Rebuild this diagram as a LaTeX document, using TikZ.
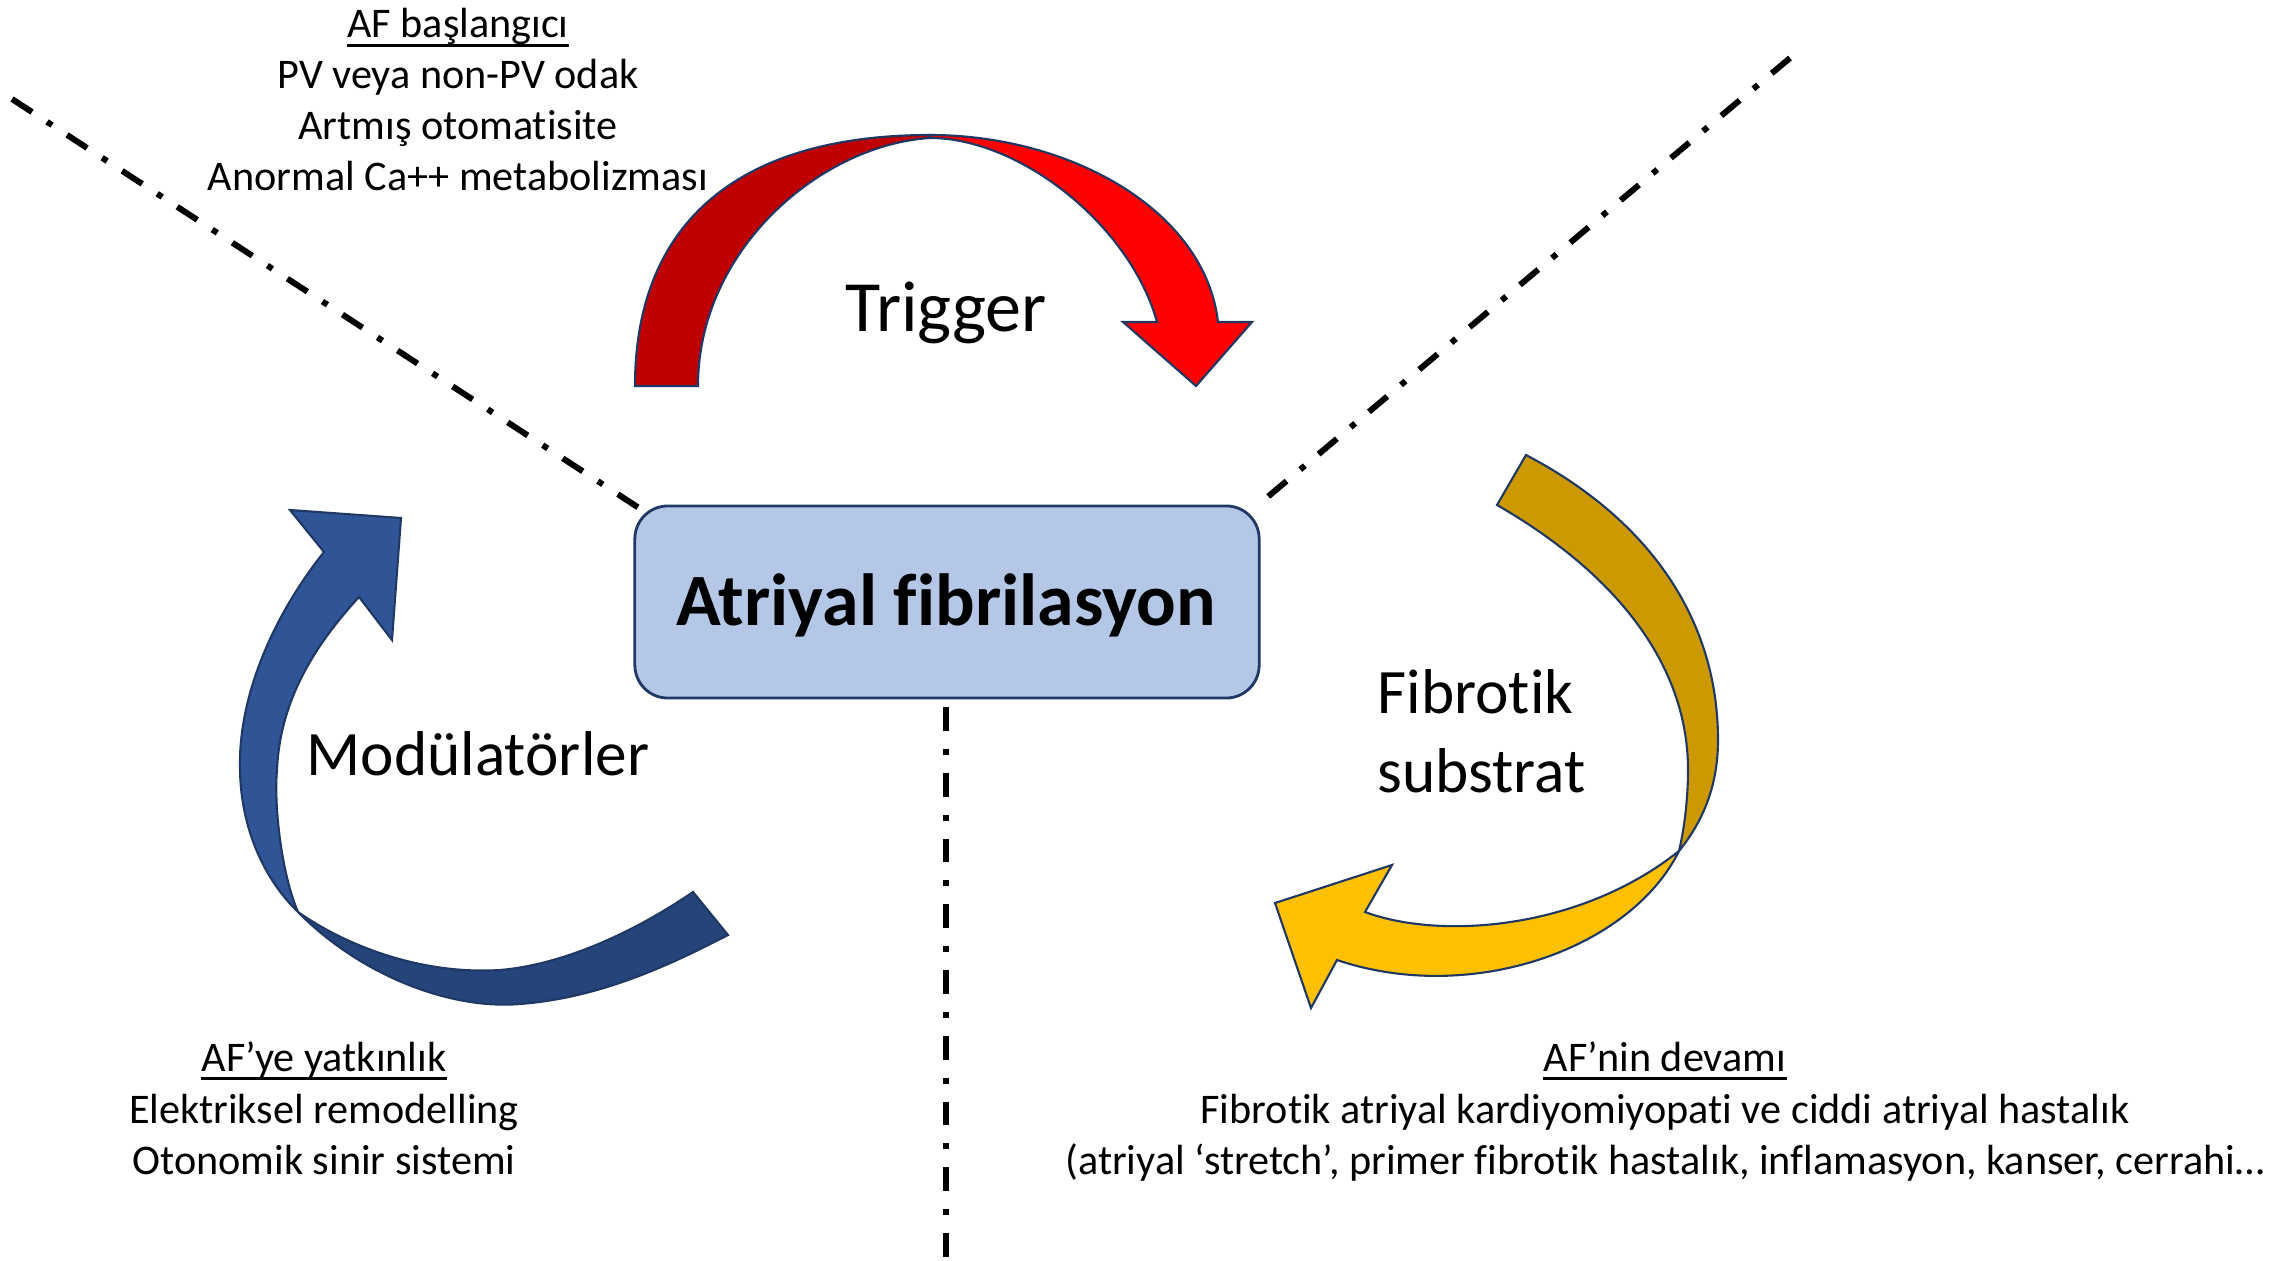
\documentclass[tikz,border=0pt]{standalone}
\usepackage{fontspec}
\setmainfont{Carlito}[Ligatures={NoCommon,NoRare}]
\definecolor{navy}{HTML}{1F3864}
\definecolor{redD}{HTML}{C00000}
\definecolor{redL}{HTML}{FF0000}
\definecolor{goldD}{HTML}{CC9A00}
\definecolor{goldL}{HTML}{FFC000}
\definecolor{blueL}{HTML}{2F5597}
\definecolor{blueD}{HTML}{25447A}
\definecolor{boxfill}{HTML}{B4C7E7}
\begin{document}
\begin{tikzpicture}[x=0.01cm,y=-0.01cm,
  ribbon/.style={draw=navy, line width=0.6pt, line join=miter},
  sepline/.style={line width=1.7pt, dash pattern=on 6.8pt off 5.1pt on 1.7pt off 5.1pt},
  smalltxt/.style={inner sep=0pt, font=\fontsize{12}{14.5}\selectfont, anchor=base},
  midtxt/.style={inner sep=0pt, font=\fontsize{18}{22}\selectfont},
  ulline/.style={line width=0.8pt}
]
\useasboundingbox (0,0) rectangle (2278,1261);

% separator lines
\coordinate (ula) at (12,99);   \coordinate (ulb) at (639,508);
\coordinate (ura) at (1790,58); \coordinate (urb) at (1264,500);
\coordinate (bta) at (946,707); \coordinate (btb) at (946,1261);
\draw[sepline] (ula) -- (ulb);
\draw[sepline] (ura) -- (urb);
\draw[sepline] (bta) -- (btb);

% red arrow (Trigger)
\filldraw[ribbon, fill=redD] (635,386) -- (698,386) .. controls (698,250) and (820,145) .. (930,138)
  -- (930,135) .. controls (738,135) and (635,223) .. (635,386) -- cycle;
\filldraw[ribbon, fill=redL] (930,135) .. controls (1070,135) and (1205,210) .. (1218,322)
  -- (1252,322) -- (1196,386) -- (1123,322) -- (1157,322)
  .. controls (1130,225) and (1020,138) .. (930,138) -- cycle;

% yellow arrow (Fibrotik substrat)
\filldraw[ribbon, fill=goldD] (1526,455) .. controls (1650,520) and (1718,620) .. (1718,740)
  .. controls (1718,790) and (1700,825) .. (1679,851)
  .. controls (1684,830) and (1688,800) .. (1688,770)
  .. controls (1688,660) and (1610,570) .. (1497,505) -- cycle;
\filldraw[ribbon, fill=goldL] (1679,851) .. controls (1630,950) and (1470,1005) .. (1337,960)
  -- (1311,1008) -- (1275,903) -- (1392,865) -- (1365,912)
  .. controls (1440,940) and (1580,930) .. (1679,851) -- cycle;

% blue arrow (Modulatorler)
\filldraw[ribbon, fill=blueL] (324,552) .. controls (270,620) and (238,700) .. (240,770)
  .. controls (241,830) and (265,880) .. (298,912)
  .. controls (280,870) and (274,800) .. (277,770)
  .. controls (280,700) and (315,645) .. (359,597)
  -- (392,640) -- (401,518) -- (290,510) -- cycle;
\filldraw[ribbon, fill=blueD] (298,912) .. controls (360,975) and (450,1010) .. (520,1004)
  .. controls (600,998) and (670,965) .. (728,935) -- (693,892)
  .. controls (630,935) and (560,965) .. (500,970)
  .. controls (420,975) and (345,945) .. (298,912) -- cycle;

% central box
\node[draw=navy, line width=0.8pt, fill=boxfill, rounded corners=0.33cm,
      minimum width=6.24cm, minimum height=1.92cm, inner sep=0pt] (af) at (947,602) {};
\node[inner sep=0pt, anchor=base, font=\fontsize{21}{25}\selectfont\bfseries] (aftext) at (946,626) {Atriyal fibrilasyon};

% labels on arrows
\node[inner sep=0pt, anchor=base, font=\fontsize{20.5}{24}\selectfont] (trig) at (946,332) {Trigger};
\node[midtxt, anchor=base] (mod) at (478,775) {Modülatörler};
\node[midtxt, anchor=base west] (fib1) at (1377,714) {Fibrotik};
\node[midtxt, anchor=base west] (fib2) at (1377,792) {substrat};

% top-left text
\node[smalltxt] (tl1) at (458,38) {AF başlangıcı};
\node[smalltxt] (tl2) at (458,89) {PV veya non-PV odak};
\node[smalltxt] (tl3) at (458,140) {Artmış otomatisite};
\node[smalltxt] (tl4) at (458,191) {Anormal Ca++ metabolizması};
\draw[ulline] ([yshift=-2.2pt]tl1.base west) -- ([yshift=-2.2pt]tl1.base east);

% bottom-left text
\node[smalltxt] (bl1) at (324,1071) {AF’ye yatkınlık};
\node[smalltxt] (bl2) at (324,1123) {Elektriksel remodelling};
\node[smalltxt] (bl3) at (324,1174) {Otonomik sinir sistemi};
\draw[ulline] ([yshift=-2.2pt]bl1.base west) -- ([yshift=-2.2pt]bl1.base east);

% bottom-right text
\node[smalltxt] (br1) at (1665,1071) {AF’nin devamı};
\node[smalltxt] (br2) at (1665,1123) {Fibrotik atriyal kardiyomiyopati ve ciddi atriyal hastalık};
\node[smalltxt] (br3) at (1665,1174) {(atriyal ‘stretch’, primer fibrotik hastalık, inflamasyon, kanser, cerrahi…};
\draw[ulline] ([yshift=-2.2pt]br1.base west) -- ([yshift=-2.2pt]br1.base east);
\end{tikzpicture}
\end{document}
